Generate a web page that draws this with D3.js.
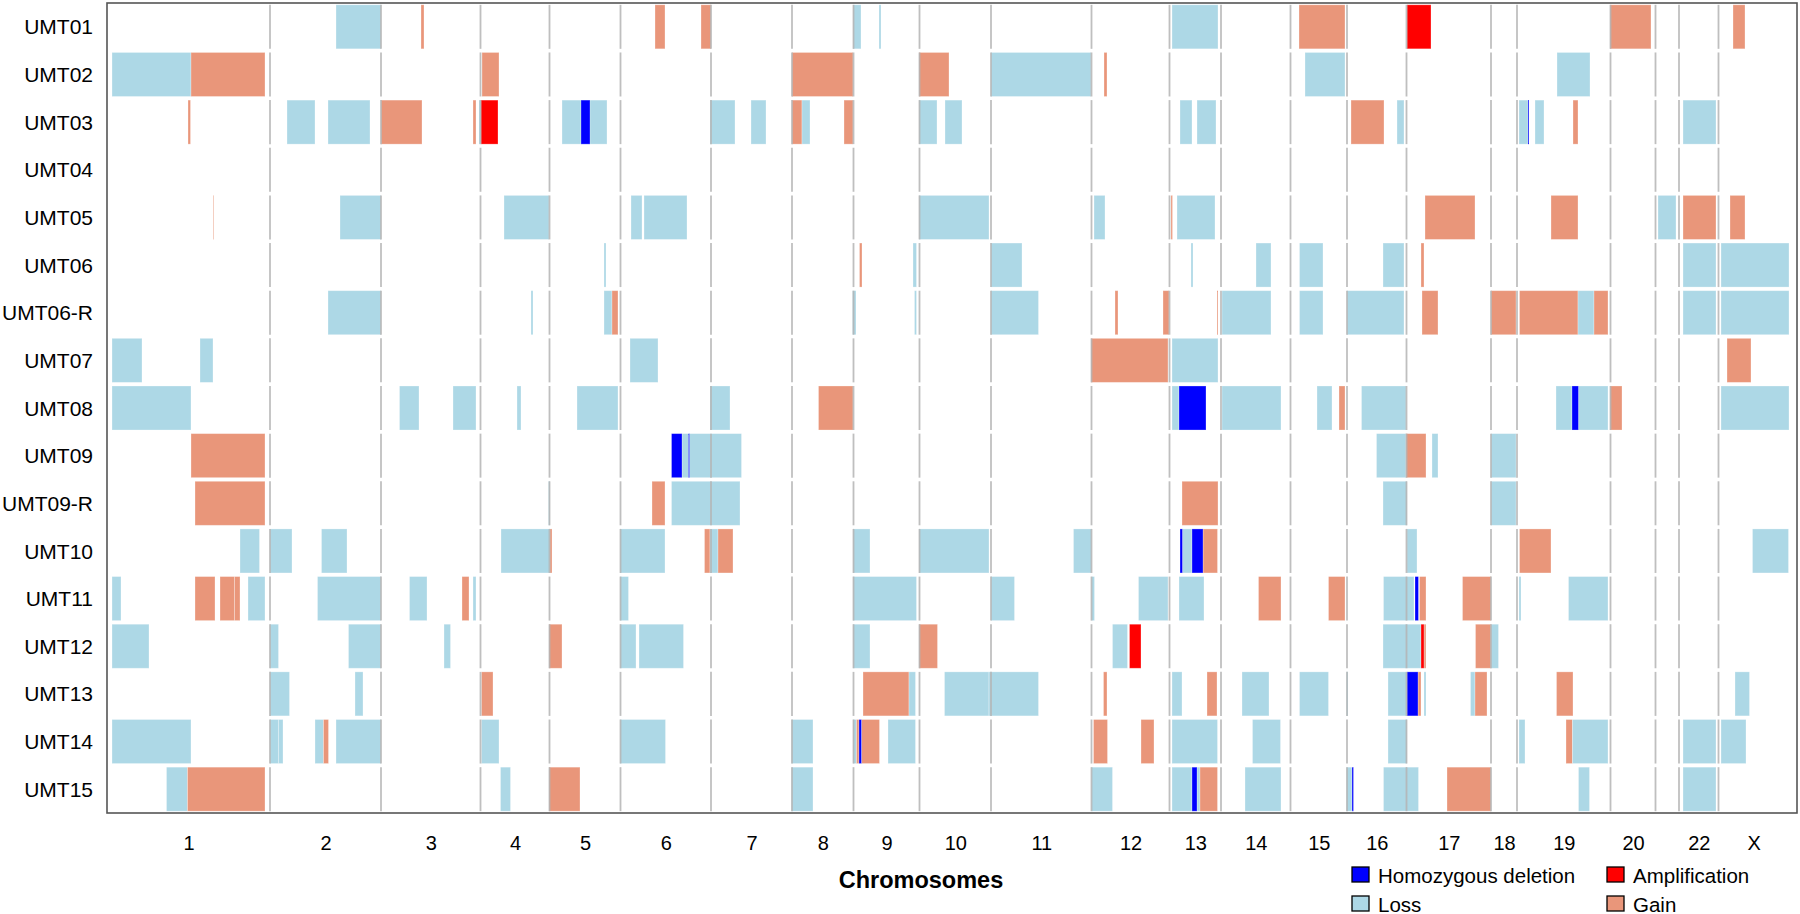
<!DOCTYPE html>
<html>
<head>
<meta charset="utf-8">
<script src="https://cdn.jsdelivr.net/npm/d3@7"></script>
<style>
  body { margin: 0; background: #fff; }
  svg text { font-family: "Liberation Sans", Arial, Helvetica, sans-serif; fill: #000; }
</style>
</head>
<body>
<script>
// chromosomes along the genome, sizes in marker units
var chromNames = ["1","2","3","4","5","6","7","8","9","10","11","12","13","14","15","16","17","18","19","20","21","22","X"];
var chromSize = [163, 111, 99.5, 69, 71, 90.5, 81, 61.5, 66, 71.5, 100.5, 78, 51.5, 69.5, 56.5, 59.5, 84.5, 26, 93.5, 45, 23.5, 39.5, 70.5];
// 21 is not labelled on the axis
var chromTickLabels = ["1","2","3","4","5","6","7","8","9","10","11","12","13","14","15","16","17","18","19","20","","22","X"];

var samples = ["UMT01","UMT02","UMT03","UMT04","UMT05","UMT06","UMT06-R","UMT07","UMT08","UMT09","UMT09-R","UMT10","UMT11","UMT12","UMT13","UMT14","UMT15"];

var typeNames = {D: "Homozygous deletion", A: "Amplification", L: "Loss", G: "Gain"};
var typeColors = {D: "#0000ff", A: "#ff0000", L: "#add8e6", G: "#e9967a"};

// segments: [start, end, type] in genome marker units
var UMT01 = [[229,274,"L"],[314,317,"G"],[548,558,"G"],[594,604,"G"],[746,754,"L"],[772,774,"L"],[1065,1111,"L"],[1192,1238,"G"],[1300,1324,"A"],[1503,1544,"G"],[1626,1638,"G"]];
var UMT02 = [[5,84,"L"],[84,158,"G"],[375,392,"G"],[685,746,"G"],[812,842,"G"],[884,984,"L"],[997,1000,"G"],[1198,1238,"L"],[1450,1483,"L"]];
var UMT03 = [[81,83.5,"G"],[180,208,"L"],[221,263,"L"],[274,315,"G"],[366,369,"G"],[372,374,"L"],[374,391,"A"],[455,500,"L"],[474,483,"D"],[603,628,"L"],[644,659,"L"],[685,695,"G"],[695,703,"L"],[737,746,"G"],[812,830,"L"],[838,855,"L"],[1073,1085,"L"],[1090,1109,"L"],[1244,1277,"G"],[1290,1297,"L"],[1412,1422,"L"],[1421,1422,"D"],[1428,1437,"L"],[1466,1471,"G"],[1576,1609,"L"]];
var UMT04 = [];
var UMT05 = [[106,106.7,"G"],[233,274,"L"],[397,442,"L"],[524,535,"L"],[537,580,"L"],[812,882,"L"],[987,998,"L"],[1064,1065.5,"G"],[1070,1108,"L"],[1318,1368,"G"],[1444,1471,"G"],[1551,1569,"L"],[1576,1609,"G"],[1623,1638,"G"]];
var UMT06 = [[497,499,"L"],[752.5,755,"G"],[806,809.5,"L"],[884,915,"L"],[1084,1086,"L"],[1149,1164,"L"],[1192.5,1216,"L"],[1276,1297,"L"],[1314,1317,"G"],[1576,1609,"L"],[1614,1682,"L"]];
var UMT06R = [[221,274,"L"],[424,426,"L"],[497,505,"L"],[505,511,"G"],[745.5,749,"L"],[807.5,809.5,"L"],[884,931.5,"L"],[1008,1011,"G"],[1056,1062,"G"],[1110,1111,"G"],[1115,1164,"L"],[1192.5,1216,"L"],[1240,1297,"L"],[1315,1331,"G"],[1384,1409,"G"],[1412.5,1471,"G"],[1471,1487,"L"],[1487,1501,"G"],[1576,1609,"L"],[1614,1682,"L"]];
var UMT07 = [[5,35,"L"],[93,106,"L"],[523,551,"L"],[984,1061,"G"],[1065,1111,"L"],[1620,1644,"G"]];
var UMT08 = [[5,84,"L"],[292.5,312,"L"],[346,369,"L"],[410,414,"L"],[470,511,"L"],[603,623,"L"],[711.5,746,"G"],[1065,1072,"L"],[1072,1099,"D"],[1115,1174,"L"],[1210,1225,"L"],[1232,1238,"G"],[1254.5,1299,"L"],[1449,1465,"L"],[1465,1471.5,"D"],[1471.5,1501,"L"],[1503,1515,"G"],[1614,1682,"L"]];
var UMT09 = [[84,158,"G"],[564.5,575,"D"],[575,634.5,"L"],[581.5,582.5,"D"],[1269.5,1299,"L"],[1299,1319,"G"],[1325,1331,"L"],[1384,1409,"L"]];
var UMT09R = [[88,158,"G"],[441.5,443,"L"],[545,558,"G"],[564.5,633,"L"],[1075,1111,"G"],[1276,1300,"L"],[1384,1409,"L"]];
var UMT10 = [[133,152.5,"L"],[163,185,"L"],[214.5,240,"L"],[394,443,"L"],[443,445,"G"],[513,558,"L"],[597.5,603,"G"],[603,611,"L"],[611,626,"G"],[746,763,"L"],[812,882,"L"],[966.5,984.5,"L"],[1073,1075.5,"D"],[1075.5,1085,"L"],[1085,1096,"D"],[1096,1110.5,"G"],[1300,1310,"L"],[1412.5,1444,"G"],[1645.5,1681.5,"L"]];
var UMT11 = [[5,14,"L"],[88,108,"G"],[113,127.5,"G"],[127.5,133,"G"],[141,158,"L"],[210.5,274,"L"],[302.5,320,"L"],[355,362,"G"],[366,369,"L"],[513,521.5,"L"],[746,809.5,"L"],[884,907.5,"L"],[984.5,987.5,"L"],[1031.5,1061,"L"],[1072,1097,"L"],[1151.5,1174,"G"],[1221.5,1238,"G"],[1276.5,1307,"L"],[1308,1311.5,"D"],[1312.5,1319,"G"],[1355.5,1384,"G"],[1412,1414,"L"],[1461.5,1501,"L"]];
var UMT12 = [[5,42,"L"],[163,171.5,"L"],[241.5,274,"L"],[337,343.5,"L"],[442,455,"G"],[513,529,"L"],[532,576.5,"L"],[746,763,"L"],[812,830.5,"G"],[1005.5,1020.5,"L"],[1022.5,1034,"A"],[1276,1314,"L"],[1314,1317,"A"],[1317,1319,"G"],[1368.5,1384,"G"],[1384,1391.5,"L"]];
var UMT13 = [[163,182.5,"L"],[248,256,"L"],[374.5,386,"G"],[756,802,"G"],[802,808.5,"L"],[837.5,882,"L"],[882,931.5,"L"],[996.5,1000,"G"],[1065,1075,"L"],[1100,1110,"G"],[1135,1162,"L"],[1192.5,1221.5,"L"],[1239.5,1241,"L"],[1281,1300,"L"],[1300,1311,"D"],[1311,1314,"G"],[1317,1319,"L"],[1363.5,1368,"L"],[1368,1380,"G"],[1449.5,1466,"G"],[1628,1642.5,"L"]];
var UMT14 = [[5,84,"L"],[163,171.5,"L"],[171.5,176,"L"],[208,216.5,"L"],[216.5,221.5,"G"],[229,274,"L"],[374.5,392,"L"],[513,558.5,"L"],[684.5,706,"L"],[746,749.5,"L"],[749.5,752,"G"],[752,754.5,"D"],[754.5,772.5,"G"],[781,808.5,"L"],[986.5,1000.5,"G"],[1034,1047,"G"],[1065,1110.5,"L"],[1145.5,1173.5,"L"],[1281,1300,"L"],[1412,1418,"L"],[1459,1465.5,"G"],[1465.5,1501,"L"],[1576,1609,"L"],[1614,1639,"L"]];
var UMT15 = [[59.5,80.5,"L"],[80.5,158,"G"],[393.5,403.5,"L"],[442,473,"G"],[684.5,706,"L"],[984.5,1005.5,"L"],[1065,1085,"L"],[1085,1090,"D"],[1090,1093,"L"],[1093,1110.5,"G"],[1138,1174,"L"],[1239.5,1245,"L"],[1245,1246.5,"D"],[1276.5,1311.5,"L"],[1340,1384,"G"],[1471.5,1482.5,"L"],[1576,1609,"L"]];

var sampleSegments = [UMT01, UMT02, UMT03, UMT04, UMT05, UMT06, UMT06R, UMT07, UMT08, UMT09, UMT09R, UMT10, UMT11, UMT12, UMT13, UMT14, UMT15];

var width = 1800, height = 914;
var plot = {left: 107, right: 1797, top: 3, bottom: 813};

var svg = d3.select("body").append("svg")
    .attr("width", width)
    .attr("height", height);

// chromosome start offsets
var chromStart = [];
var acc = 0;
chromSize.forEach(function(s) { chromStart.push(acc); acc += s; });

var x = d3.scaleLinear()
    .domain([0, acc + 8])
    .range([plot.left, plot.right]);

var y = d3.scaleBand()
    .domain(samples)
    .range([plot.top, plot.bottom])
    .paddingInner(0.076)
    .paddingOuter(0.038);

// flatten segments, gains/losses first, focal events on top
var order = {L: 0, G: 0, D: 1, A: 1};
var segs = [];
samples.forEach(function(s, i) {
    sampleSegments[i].forEach(function(d) {
        segs.push({sample: s, start: d[0], end: d[1], type: d[2]});
    });
});
segs.sort(function(a, b) { return order[a.type] - order[b.type]; });

svg.append("g").attr("class", "segments")
    .selectAll("rect").data(segs)
    .enter().append("rect")
    .attr("x", function(d) { return x(d.start); })
    .attr("width", function(d) { return Math.max(0.7, x(d.end) - x(d.start)); })
    .attr("y", function(d) { return y(d.sample); })
    .attr("height", y.bandwidth())
    .attr("fill", function(d) { return typeColors[d.type]; })
    .attr("stroke", "#fff")
    .attr("stroke-opacity", 0.35)
    .attr("stroke-width", 0.8);

// chromosome separators, one piece per sample row
var bounds = chromStart.slice(1);
var sep = svg.append("g").attr("class", "separators");
samples.forEach(function(s) {
    sep.selectAll(null).data(bounds)
        .enter().append("line")
        .attr("x1", function(d) { return x(d); })
        .attr("x2", function(d) { return x(d); })
        .attr("y1", y(s))
        .attr("y2", y(s) + y.bandwidth())
        .attr("stroke", "#b4b4b4")
        .attr("stroke-opacity", 0.85)
        .attr("stroke-width", 1.8);
});

// frame
svg.append("rect")
    .attr("x", plot.left)
    .attr("y", plot.top)
    .attr("width", plot.right - plot.left)
    .attr("height", plot.bottom - plot.top)
    .attr("fill", "none")
    .attr("stroke", "#555")
    .attr("stroke-width", 1.6);

// sample names
svg.append("g").selectAll("text").data(samples)
    .enter().append("text")
    .attr("x", 93)
    .attr("y", function(d) { return y(d) + y.bandwidth() / 2; })
    .attr("dy", "0.36em")
    .attr("text-anchor", "end")
    .style("font-size", "21px")
    .text(function(d) { return d; });

// chromosome axis
var centers = chromStart.map(function(s, i) { return s + chromSize[i] / 2; });
var xAxis = d3.axisBottom(x)
    .tickValues(centers)
    .tickSize(0)
    .tickFormat(function(d, i) { return chromTickLabels[i]; });

var axisG = svg.append("g")
    .attr("transform", "translate(0," + plot.bottom + ")")
    .call(xAxis);
axisG.select(".domain").remove();
axisG.selectAll("text")
    .attr("y", 37)
    .attr("dy", 0)
    .style("font-size", "20px")
    .style("font-family", "'Liberation Sans', Arial, sans-serif")
    .attr("fill", "#000");

svg.append("text")
    .attr("x", 921)
    .attr("y", 888)
    .attr("text-anchor", "middle")
    .style("font-size", "23.5px")
    .style("font-weight", "bold")
    .text("Chromosomes");

// legend
var legendItems = [
    {type: "D", x: 1352, y: 867},
    {type: "A", x: 1607, y: 867},
    {type: "L", x: 1352, y: 896},
    {type: "G", x: 1607, y: 896}
];
var legend = svg.append("g").selectAll("g").data(legendItems)
    .enter().append("g")
    .attr("transform", function(d) { return "translate(" + d.x + "," + d.y + ")"; });
legend.append("rect")
    .attr("width", 17)
    .attr("height", 15)
    .attr("fill", function(d) { return typeColors[d.type]; })
    .attr("stroke", "#000")
    .attr("stroke-width", 1.3);
legend.append("text")
    .attr("x", 26)
    .attr("y", 15.5)
    .style("font-size", "20.5px")
    .text(function(d) { return typeNames[d.type]; });
</script>
</body>
</html>
